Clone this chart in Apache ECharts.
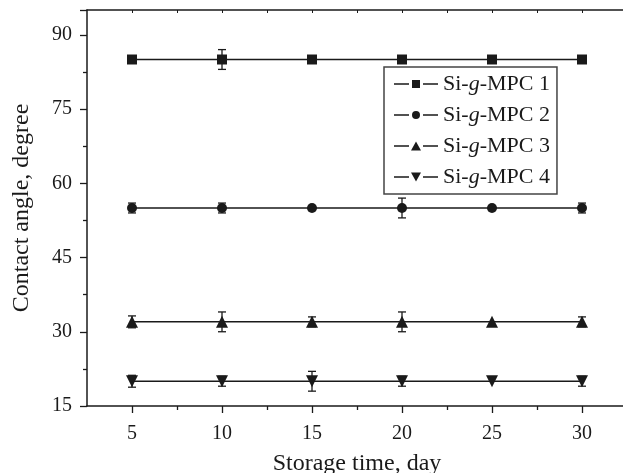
<!DOCTYPE html>
<html>
<head>
<meta charset="utf-8">
<script src="https://cdn.jsdelivr.net/npm/echarts@6/dist/echarts.min.js"></script>
<style>
  html, body { margin: 0; padding: 0; background: #fff; }
  #chart { width: 623px; height: 473px; }
</style>
</head>
<body>
<div id="chart"></div>
<script>
// data
var days = [5, 10, 15, 20, 25, 30];
var seriesNames = ['Si-g-MPC 1', 'Si-g-MPC 2', 'Si-g-MPC 3', 'Si-g-MPC 4'];
var mpc1 = [85, 85, 85, 85, 85, 85];
var mpc2 = [55, 55, 55, 55, 55, 55];
var mpc3 = [32, 32, 32, 32, 32, 32];
var mpc4 = [20, 20, 20, 20, 20, 20];
// error bar half heights
var err1 = [0, 2, 0.6, 0, 0.6, 0.6];
var err2 = [1, 1, 0, 2, 0, 1];
var err3 = [1.2, 2, 1, 2, 0, 1];
var err4 = [1.2, 1, 2, 1, 0, 1];
var xTicks = [5, 10, 15, 20, 25, 30];
var xMinorTicks = [7.5, 12.5, 17.5, 22.5, 27.5, 32.5];
var xTopTicks = [5, 7.5, 10, 12.5, 15, 17.5, 20, 22.5, 25, 27.5, 30, 32.5];
var yTicks = [15, 30, 45, 60, 75, 90];

(function () {
  var myChart = echarts.init(document.getElementById('chart'));
  var font = '"Liberation Serif", "Times New Roman", serif';
  var ink = '#1a1a1a';
  var symbols = ['rect', 'circle', 'triangle', 'path://M0,0 L10,0 L5,10 Z'];
  var sizes = [10, 10, 12, 12];
  var values = [mpc1, mpc2, mpc3, mpc4];
  var errs = [err1, err2, err3, err4];
  // 图例图标：线-标记-线（中间留空）
  var bars = 'M0,5.3h15v1.4h-15z M29,5.3h15v1.4h-15z ';
  var legendIcons = [
    'path://' + bars + 'M18,2h8v8h-8z',
    'path://' + bars + 'M18,6a4,4 0 1,0 8,0a4,4 0 1,0 -8,0z',
    'path://' + bars + 'M17,10.5L22,1.5L27,10.5z',
    'path://' + bars + 'M17,1.5L27,1.5L22,10.5z'
  ];

  function pairs(arr) {
    return days.map(function (d, i) { return [d, arr[i]]; });
  }

  // 误差线
  function errorRender(params, api) {
    var x = api.value(0), y = api.value(1), e = api.value(2);
    if (!e) return;
    var hi = api.coord([x, y + e]);
    var lo = api.coord([x, y - e]);
    var cap = 4;
    var style = { stroke: ink, lineWidth: 1.3 };
    return {
      type: 'group',
      children: [
        { type: 'line', shape: { x1: hi[0], y1: hi[1], x2: lo[0], y2: lo[1] }, style: style },
        { type: 'line', shape: { x1: hi[0] - cap, y1: hi[1], x2: hi[0] + cap, y2: hi[1] }, style: style },
        { type: 'line', shape: { x1: lo[0] - cap, y1: lo[1], x2: lo[0] + cap, y2: lo[1] }, style: style }
      ]
    };
  }

  var series = [];
  values.forEach(function (v, k) {
    series.push({
      name: seriesNames[k] + ' err',
      type: 'custom',
      xAxisIndex: 0,
      yAxisIndex: 0,
      renderItem: errorRender,
      data: days.map(function (d, i) { return [d, v[i], errs[k][i]]; }),
      z: 1,
      silent: true
    });
    series.push({
      name: seriesNames[k],
      type: 'line',
      xAxisIndex: 0,
      yAxisIndex: 0,
      data: pairs(v),
      symbol: symbols[k],
      symbolSize: sizes[k],
      showAllSymbol: true,
      lineStyle: { color: ink, width: 1.5 },
      itemStyle: { color: ink, borderWidth: 0 },
      z: 3
    });
  });

  var option = {
    animation: false,
    grid: { left: 87, top: 10, right: -4, bottom: 67, containLabel: false, outerBoundsMode: 'none' },
    legend: {
      orient: 'vertical',
      left: 384,
      top: 67,
      data: seriesNames.map(function (n, k) { return { name: n, icon: legendIcons[k] }; }),
      itemWidth: 44,
      itemHeight: 12,
      itemGap: 9,
      padding: [6, 7, 6, 10],
      borderColor: '#444',
      borderWidth: 1.5,
      backgroundColor: '#fff',
      itemStyle: { color: ink, borderWidth: 0 },
      lineStyle: { width: 0 },
      formatter: function (name) {
        return name.replace('-g-', '-{i|g}-');
      },
      textStyle: {
        fontFamily: font, fontSize: 22, color: ink,
        rich: { i: { fontFamily: font, fontSize: 22, fontStyle: 'italic', color: ink } }
      }
    },
    xAxis: [
      {
        type: 'value', min: 2.5, max: 32.5, position: 'bottom',
        name: 'Storage time, day', nameLocation: 'middle', nameGap: 46,
        nameTextStyle: { fontFamily: font, fontSize: 24, color: ink },
        splitLine: { show: false },
        axisLine: { lineStyle: { color: ink, width: 1.5 } },
        axisTick: { inside: false, length: 7, lineStyle: { color: ink, width: 1.3 }, customValues: xTicks },
        axisLabel: { customValues: xTicks, fontFamily: font, fontSize: 20, color: ink, margin: 18 }
      },
      {
        type: 'value', min: 2.5, max: 32.5, position: 'bottom',
        splitLine: { show: false },
        axisLine: { show: false },
        axisTick: { inside: false, length: 4, lineStyle: { color: ink, width: 1.3 }, customValues: xMinorTicks },
        axisLabel: { show: false }
      },
      {
        type: 'value', min: 2.5, max: 32.5, position: 'top',
        splitLine: { show: false },
        axisLine: { lineStyle: { color: ink, width: 1.5 } },
        axisTick: { inside: true, length: 3, lineStyle: { color: ink, width: 1 }, customValues: xTopTicks },
        axisLabel: { show: false }
      }
    ],
    yAxis: [
      {
        type: 'value', min: 15, max: 95, interval: 15, position: 'left',
        name: 'Contact angle, degree', nameLocation: 'middle', nameGap: 53, nameRotate: 90,
        nameTextStyle: { fontFamily: font, fontSize: 24, color: ink },
        splitLine: { show: false },
        axisLine: { lineStyle: { color: ink, width: 1.5 } },
        axisTick: { inside: false, length: 7, lineStyle: { color: ink, width: 1.3 } },
        minorTick: { show: true, splitNumber: 2, length: 4, lineStyle: { color: ink, width: 1.3 } },
        axisLabel: { customValues: yTicks, fontFamily: font, fontSize: 20, color: ink, margin: 15 }
      }
    ],
    series: series
  };

  myChart.setOption(option);
  window.addEventListener('resize', function () {
    myChart.resize();
  });
})();
</script>
</body>
</html>
